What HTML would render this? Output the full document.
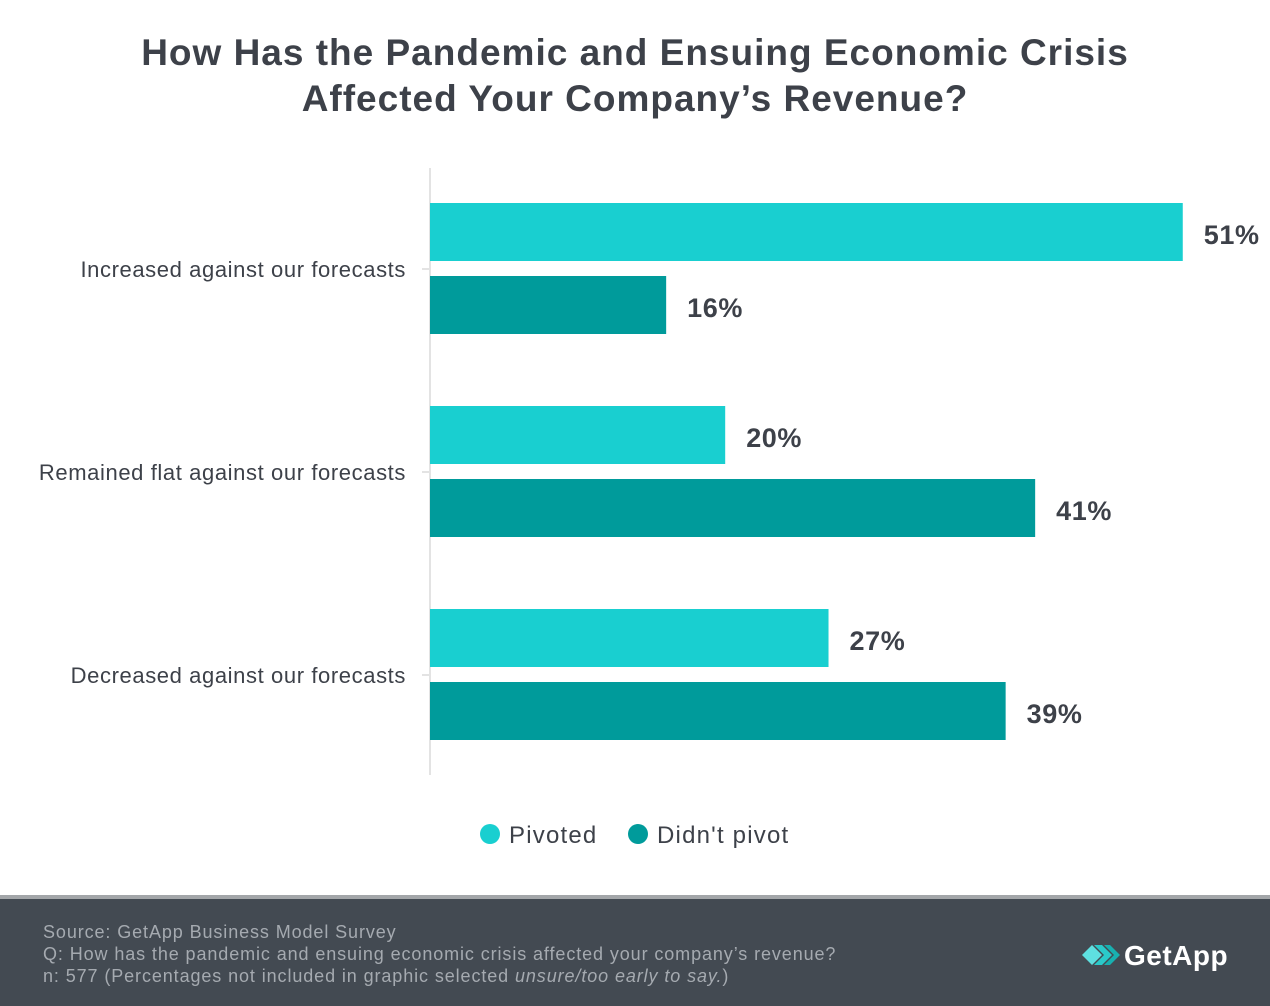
<!DOCTYPE html>
<html><head><meta charset="utf-8"><style>
body{margin:0;width:1270px;height:1006px;background:#fff;font-family:"Liberation Sans",sans-serif;overflow:hidden;position:relative}
.title{position:absolute;left:0;width:1270px;top:30px;text-align:center;font-weight:bold;font-size:37px;letter-spacing:1px;line-height:46px;color:#3d4149}
.footer{position:absolute;left:0;top:895px;width:1270px;height:111px;background:#434a52;border-top:4px solid #a3a6a9;box-sizing:border-box}
.ft{position:absolute;left:43px;top:22px;color:#a5aab0;font-size:18px;letter-spacing:0.9px;line-height:22px}
</style></head><body>
<div class="title">How Has the Pandemic and Ensuing Economic Crisis<br>Affected Your Company’s Revenue?</div>
<svg id="chart" width="1270" height="890" style="position:absolute;left:0;top:0"></svg>
<div class="footer">
<div class="ft">Source: GetApp Business Model Survey<br>Q: How has the pandemic and ensuing economic crisis affected your company’s revenue?<br>n: 577 (Percentages not included in graphic selected <i>unsure/too early to say.</i>)</div>
<svg style="position:absolute;left:1078px;top:38px" width="170" height="40">
<polygon points="4,18 14,8 24,18 14,28" fill="#5ee0e0"/>
<polygon points="16,8 24,8 34,18 24,28 16,28 26,18" fill="#2bcaca"/>
<polygon points="26,8 32,8 42,18 32,28 26,28 36,18" fill="#18b0b0"/>
<text x="46" y="28" font-family="Liberation Sans" font-weight="bold" font-size="28" letter-spacing="0.5" fill="#fff">GetApp</text>
</svg>
</div>
<script>
const categories=["Increased against our forecasts","Remained flat against our forecasts","Decreased against our forecasts"];
const pivoted=[51,20,27];
const didntPivot=[16,41,39];
const seriesNames=["Pivoted","Didn't pivot"];
const colors=["#19cfd0","#009b9b"];
const svg=document.getElementById('chart');
const NS='http://www.w3.org/2000/svg';
const x0=430,pxPer=14.76,gTop=203,gStep=203,barH=58,barGap=73;
const xs=v=>x0+v*pxPer;
function mk(t,a){const e=document.createElementNS(NS,t);for(const k in a)e.setAttribute(k,a[k]);svg.appendChild(e);return e;}
let ax=mk('line',{x1:x0,y1:168,x2:x0,y2:775,stroke:'#e3e3e3','stroke-width':2});


categories.forEach((c,i)=>{
  const top=gTop+i*gStep;
  const cy=top+66;
  let tk=mk('line',{x1:x0-8,y1:cy,x2:x0,y2:cy,stroke:'#e3e3e3','stroke-width':2});
  
  
  let lb=mk('text',{x:406,y:cy+8,'text-anchor':'end','font-size':22,'letter-spacing':0.6,fill:'#3d4149','font-family':'Liberation Sans'});
  lb.textContent=c;
  
  
  [pivoted[i],didntPivot[i]].forEach((v,s)=>{
    const y=top+s*barGap;
    let r=mk('rect',{x:x0,y:y,width:xs(v)-x0,height:barH,fill:colors[s]});
    
    
    let t=mk('text',{x:xs(v)+21,y:y+41,'font-size':27,'letter-spacing':0.6,'font-weight':'bold',fill:'#3d4149','font-family':'Liberation Sans'});
    t.textContent=v+'%';
    
    
  });
});
const lx=[490,638];
seriesNames.forEach((n,i)=>{
  let c=mk('circle',{cx:lx[i],cy:834,r:10,fill:colors[i]});
  
  
  let t=mk('text',{x:lx[i]+19,y:843,'font-size':24,'letter-spacing':1.2,fill:'#3d4149','font-family':'Liberation Sans'});
  t.textContent=n;
  
  
});
</script>
</body></html>
